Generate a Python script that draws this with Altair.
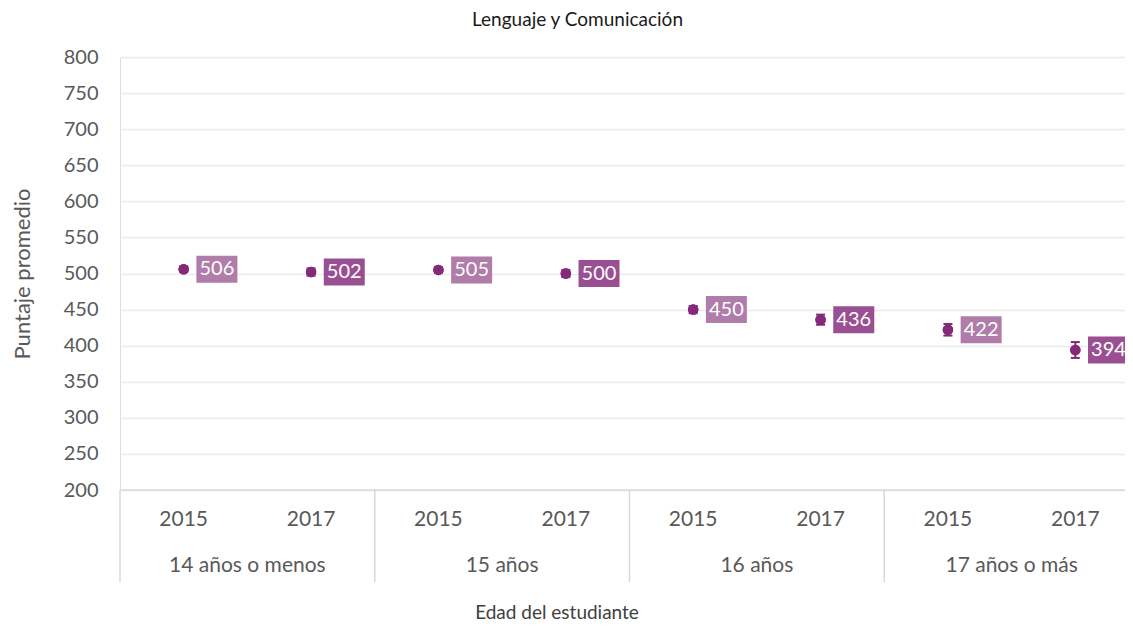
import altair as alt
import pandas as pd

# ---- data ----
groups = ["14 años o menos", "15 años", "16 años", "17 años o más"]
years = ["2015", "2017"]
scores = [506, 502, 505, 500, 450, 436, 422, 394]
errors = [4, 5, 4, 5, 5, 7, 8, 11]
y_ticks = [200, 250, 300, 350, 400, 450, 500, 550, 600, 650, 700, 750, 800]

chart_title = "Lenguaje y Comunicación"
y_title = "Puntaje promedio"
x_title = "Edad del estudiante"

rows = []
for gi, g in enumerate(groups):
    for yi, yr in enumerate(years):
        i = gi * 2 + yi
        rows.append(dict(group=g, year=yr, pos=i + 0.5, score=scores[i],
                         lo=scores[i] - errors[i], hi=scores[i] + errors[i],
                         label=str(scores[i])))
df = pd.DataFrame(rows)
gdf = pd.DataFrame({"group": groups,
                    "center": [2 * i + 1 for i in range(len(groups))],
                    "edge": [2 * i for i in range(len(groups))]})
tdf = pd.DataFrame({"t": [x_title]})

# ---- style ----
W, H = 1005, 433
FONT = "Lato"
GRAY = "#595959"
POINT = "#85297a"
BOX = ["#b07ca9", "#9b4f93"]
SEP = "#d9d9d9"

xs = alt.Scale(domain=[0, 8], range=[0, 1019])
ys = alt.Scale(domain=[200, 800])
X = alt.X("pos:Q", scale=xs, axis=None)

yaxis = alt.Axis(values=y_ticks, domain=False, ticks=False, labelFontSize=20,
                 labelFont=FONT, labelColor=GRAY, labelPadding=22,
                 gridColor="#ebebeb", gridWidth=1.5, title=y_title,
                 titleFontSize=22, titleFont=FONT, titleColor=GRAY,
                 titleFontWeight="normal", titleX=-98, titleBaseline="middle")


def Y(field):
    return alt.Y(field, scale=ys, axis=yaxis, title=y_title)


base = alt.Chart(df)

points = base.mark_circle(size=110, opacity=1, color=POINT).encode(
    x=X, y=Y("score:Q"))

err = base.mark_rule(color=POINT, strokeWidth=2).encode(
    x=X, y=Y("lo:Q"), y2="hi:Q")
cap_lo = base.mark_rule(color=POINT, strokeWidth=2, xOffset=-4.5, x2Offset=4.5).encode(
    x=X, x2="pos:Q", y=Y("lo:Q"))
cap_hi = base.mark_rule(color=POINT, strokeWidth=2, xOffset=-4.5, x2Offset=4.5).encode(
    x=X, x2="pos:Q", y=Y("hi:Q"))

boxes = base.mark_rect(xOffset=12.7, x2Offset=53.7, yOffset=-13.5, y2Offset=13.5).encode(
    x=X, x2="pos:Q", y=Y("score:Q"), y2="score:Q",
    color=alt.Color("year:N", scale=alt.Scale(domain=years, range=BOX), legend=None))

box_text = base.mark_text(xOffset=33.2, color="white", fontSize=20, font=FONT,
                          baseline="middle", align="center").encode(
    x=X, y=Y("score:Q"), text="label:N")

year_lbl = base.mark_text(fontSize=21, font=FONT, color=GRAY, baseline="middle",
                          align="center").encode(
    x=X, y=alt.value(463), text="year:N")

group_lbl = alt.Chart(gdf).mark_text(fontSize=21, font=FONT, color=GRAY,
                                     baseline="middle", align="center").encode(
    x=alt.X("center:Q", scale=xs, axis=None), y=alt.value(509), text="group:N")

seps = alt.Chart(gdf).mark_rule(color=SEP, strokeWidth=1.5).encode(
    x=alt.X("edge:Q", scale=xs, axis=None), y=alt.value(H), y2=alt.value(H + 92))

bottom = alt.Chart(tdf).mark_rule(color=SEP, strokeWidth=1.5).encode(
    x=alt.value(0), x2=alt.value(W), y=alt.value(H))

xtitle = alt.Chart(tdf).mark_text(fontSize=19, font=FONT, color="#404040",
                                  baseline="middle", align="center").encode(
    x=alt.value(437), y=alt.value(556), text="t:N")

chart = alt.layer(
    points, seps, bottom, err, cap_lo, cap_hi, points, boxes, box_text,
    year_lbl, group_lbl, xtitle
).properties(
    width=W, height=H,
    title=alt.TitleParams(chart_title, fontSize=19, font=FONT, color="#1a1a1a",
                          fontWeight="normal", dx=-45, offset=17),
    autosize=alt.AutoSizeParams(type="none"),
    padding={"left": 112, "top": 49, "right": 0, "bottom": 134},
).configure_view(strokeWidth=0, stroke="transparent").configure(background="white")

chart.save("out.html", embed_options={"renderer": "svg", "actions": False})
